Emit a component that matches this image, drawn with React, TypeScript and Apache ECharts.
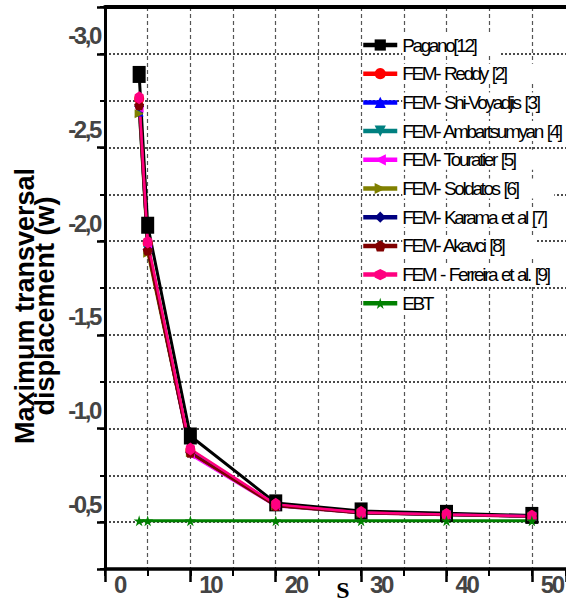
import React, { useEffect, useRef } from 'react';
import * as echarts from 'echarts';

// ---- data ----
const S_VALUES = [4, 5, 10, 20, 30, 40, 50];
const PAGANO = [-2.89, -2.085, -0.96, -0.603, -0.56, -0.547, -0.536];
const REDDY = [-2.76, -1.99, -0.885, -0.592, -0.551, -0.54, -0.532];
const SHI_VOYIADJIS = [-2.69, -1.955, -0.875, -0.59, -0.55, -0.54, -0.532];
const AMBARTSUMYAN = [-2.7, -1.95, -0.875, -0.588, -0.549, -0.539, -0.531];
const TOURATIER = [-2.71, -1.96, -0.86, -0.585, -0.548, -0.538, -0.53];
const SOLDATOS = [-2.68, -1.935, -0.87, -0.586, -0.548, -0.538, -0.53];
const KARAMA = [-2.72, -1.955, -0.872, -0.588, -0.549, -0.539, -0.531];
const AKAVCI = [-2.725, -1.95, -0.87, -0.588, -0.549, -0.539, -0.531];
const FERREIRA = [-2.765, -1.995, -0.89, -0.595, -0.552, -0.541, -0.532];
const EBT = [-0.508, -0.508, -0.508, -0.508, -0.508, -0.508, -0.508];

const Y_LABELED = [-3.0, -2.5, -2.0, -1.5, -1.0, -0.5];
const X_LABELED = [0, 10, 20, 30, 40, 50];

const Y_TITLE = 'Maximum transversal\ndisplacement (w)';
const X_TITLE = 'S';

// "ChartNarrow" is only a marker so that CSS can tighten these texts
const FONT_NARROW = "ChartNarrow, 'Liberation Sans', Arial, sans-serif";
const FONT_SANS = "'Liberation Sans', Arial, sans-serif";

const STAR = 'path://M50,0 L61,35 L98,35 L68,57 L79,91 L50,70 L21,91 L32,57 L2,35 L39,35 Z';
const PENTAGON = 'path://M50,0 L100,38 L81,100 L19,100 L0,38 Z';
const HEXAGON = 'path://M50,0 L100,25 L100,75 L50,100 L0,75 L0,25 Z';

const SERIES_DEFS = [
  { name: 'Pagano[12]', values: PAGANO, color: '#000000', symbol: 'rect', size: [13, 17], rotate: 0, width: 3 },
  { name: 'FEM- Reddy [2]', values: REDDY, color: '#ff0000', symbol: 'circle', size: [10, 12], rotate: 0, width: 2.5 },
  { name: 'FEM- Shi-Voyadjis [3]', values: SHI_VOYIADJIS, color: '#0000ff', symbol: 'triangle', size: 9, rotate: 0, width: 2.5 },
  { name: 'FEM- Ambartsumyan [4]', values: AMBARTSUMYAN, color: '#008080', symbol: 'triangle', size: 9, rotate: 180, width: 2.5 },
  { name: 'FEM- Touratier [5]', values: TOURATIER, color: '#ff00ff', symbol: 'triangle', size: 9, rotate: 90, width: 2.5 },
  { name: 'FEM- Soldatos [6]', values: SOLDATOS, color: '#808000', symbol: 'triangle', size: 9, rotate: -90, width: 2.5 },
  { name: 'FEM- Karama et al [7]', values: KARAMA, color: '#000080', symbol: 'diamond', size: 10, rotate: 0, width: 2.5 },
  { name: 'FEM- Akavci [8]', values: AKAVCI, color: '#800000', symbol: PENTAGON, size: 10, rotate: 0, width: 2.5 },
  { name: 'FEM - Ferreira et al. [9]', values: FERREIRA, color: '#ff0080', symbol: HEXAGON, size: [9, 13], rotate: 0, width: 2.5 },
  { name: 'EBT', values: EBT, color: '#008000', symbol: STAR, size: 11, rotate: 0, width: 3 },
];

const Y_MIN = -3.25;
const Y_MAX = -0.25;
const X_MIN = 0;
const X_MAX = 54;

function buildOption() {
  const series = SERIES_DEFS.map((d) => ({
    type: 'line',
    name: d.name,
    xAxisIndex: 0,
    yAxisIndex: 0,
    data: S_VALUES.map((s, i) => [s, d.values[i]]),
    symbol: d.symbol,
    symbolSize: d.size,
    symbolRotate: d.rotate,
    showAllSymbol: true,
    lineStyle: { color: d.color, width: d.width },
    itemStyle: { color: d.color, borderWidth: 0 },
    emphasis: { disabled: true },
  }));

  const axisFontLabel = {
    fontFamily: FONT_NARROW,
    fontWeight: 'bold',
    fontSize: 24,
    color: '#444',
  };

  return {
    animation: false,
    backgroundColor: '#ffffff',
    grid: {
      left: 105,
      right: 0,
      top: 7,
      bottom: 35,
      containLabel: false,
      outerBoundsMode: 'none',
    },
    legend: {
      orient: 'vertical',
      left: 356,
      top: 30,
      itemWidth: 34,
      itemHeight: 14,
      itemGap: 8.7,
      selectedMode: false,
      lineStyle: { width: 4.5 },
      textStyle: {
        fontFamily: FONT_NARROW,
        fontSize: 19,
        color: '#000',
        lineHeight: 20,
        backgroundColor: '#ffffff',
      },
      data: SERIES_DEFS.map((d) => d.name),
    },
    xAxis: [
      {
        type: 'value',
        gridIndex: 0,
        position: 'bottom',
        min: X_MIN,
        max: X_MAX,
        interval: 5,
        axisLine: { show: true, onZero: false, lineStyle: { color: '#000', width: 3.5 } },
        axisTick: { show: true, length: 7, lineStyle: { color: '#000', width: 2 } },
        axisLabel: { show: false },
        splitLine: {
          show: true,
          showMaxLine: false,
          lineStyle: { color: '#555', width: 1.2, type: [4, 3] },
        },
      },
      {
        type: 'value',
        gridIndex: 0,
        position: 'bottom',
        min: X_MIN,
        max: X_MAX,
        interval: 10,
        axisLine: { show: false, onZero: false },
        axisTick: { show: true, length: 13, lineStyle: { color: '#000', width: 2.5 } },
        axisLabel: {
          ...axisFontLabel,
          margin: 3,
          align: 'left',
          verticalAlign: 'top',
          padding: [0, 0, 0, 9],
          lineHeight: 24,
          formatter: (v: number) => (X_LABELED.includes(v) ? String(v) : ''),
        },
        splitLine: { show: false },
      },
      {
        type: 'value',
        gridIndex: 0,
        position: 'top',
        min: X_MIN,
        max: X_MAX,
        axisLine: { show: true, onZero: false, lineStyle: { color: '#000', width: 4 } },
        axisTick: { show: false },
        axisLabel: { show: false },
        splitLine: { show: false },
      },
    ],
    yAxis: [
      {
        type: 'value',
        gridIndex: 0,
        inverse: true,
        min: Y_MIN,
        max: Y_MAX,
        interval: 0.25,
        axisLine: { show: true, onZero: false, lineStyle: { color: '#000', width: 3 } },
        axisTick: { show: true, length: 5, lineStyle: { color: '#000', width: 2 } },
        axisLabel: { show: false },
        splitLine: {
          show: true,
          lineStyle: { color: '#111', width: 1.5, type: [2, 2] },
        },
      },
      {
        type: 'value',
        gridIndex: 0,
        inverse: true,
        position: 'left',
        min: Y_MIN,
        max: Y_MAX,
        minInterval: 0.5,
        maxInterval: 0.5,
        axisLine: { show: false, onZero: false },
        axisTick: { show: true, length: 8, lineStyle: { color: '#000', width: 2.5 } },
        axisLabel: {
          ...axisFontLabel,
          margin: 5,
          verticalAlign: 'bottom',
          padding: [0, 0, 6, 0],
          lineHeight: 24,
          formatter: (v: number) => {
            const hit = Y_LABELED.find((t) => Math.abs(t - v) < 1e-6);
            return hit === undefined ? '' : hit.toFixed(1).replace('.', ',');
          },
        },
        splitLine: { show: false },
      },
    ],
    graphic: [
      {
        type: 'text',
        x: 35,
        y: 306,
        rotation: Math.PI / 2,
        style: {
          text: Y_TITLE,
          font: `bold 27px ${FONT_SANS}`,
          fill: '#000',
          align: 'center',
          verticalAlign: 'middle',
          textAlign: 'center',
          textVerticalAlign: 'middle',
          lineHeight: 20,
        },
      },
      {
        type: 'text',
        x: 343,
        y: 590,
        style: {
          text: X_TITLE,
          font: "bold 24px 'Liberation Serif', 'Times New Roman', serif",
          fill: '#000',
          align: 'center',
          verticalAlign: 'middle',
          textAlign: 'center',
          textVerticalAlign: 'middle',
          lineHeight: 18,
        },
      },
    ],
    series,
  };
}

const CSS = `
.chart-root svg text[style*="ChartNarrow"] { letter-spacing: -2.4px; word-spacing: 2px; }
`;

export default function App() {
  const ref = useRef<HTMLDivElement>(null);
  useEffect(() => {
    if (!ref.current) return;
    const chart = echarts.init(ref.current, null, { renderer: 'svg' });
    chart.setOption(buildOption() as any);
    return () => {
      chart.dispose();
    };
  }, []);
  return (
    <>
      <style>{CSS}</style>
      <div
        ref={ref}
        className="chart-root"
        style={{ position: 'fixed', left: 0, top: 0, width: 566, height: 604, background: '#fff' }}
      />
    </>
  );
}
